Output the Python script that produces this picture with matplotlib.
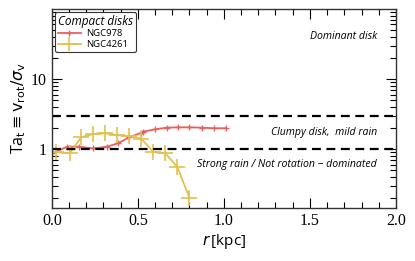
import matplotlib
matplotlib.use('Agg')
import matplotlib.pyplot as plt
from matplotlib.ticker import MultipleLocator, LogLocator, FixedLocator, FixedFormatter, NullFormatter

# radius in kpc and Ta_t = v_rot / sigma_v
r_978 = [0.0, 0.09, 0.16, 0.24, 0.32, 0.385, 0.45, 0.52, 0.53, 0.60, 0.667, 0.734, 0.80, 0.87, 0.94, 1.01]
ta_978 = [0.87, 1.08, 1.08, 1.02, 1.08, 1.21, 1.47, 1.71, 1.77, 1.91, 2.02, 2.04, 2.04, 2.02, 1.98, 1.98]
r_4261 = [0.023, 0.105, 0.17, 0.24, 0.31, 0.38, 0.45, 0.52, 0.59, 0.66, 0.73, 0.80]
ta_4261 = [0.90, 0.87, 1.47, 1.64, 1.68, 1.58, 1.53, 1.40, 0.91, 0.87, 0.55, 0.20]

limits = [3.0, 1.0]
regions = ['Dominant disk', 'Clumpy disk,  mild rain', 'Strong rain / Not rotation \u2212 dominated']
region_y = [40, 1.75, 0.6]

red = '#e8605f'
yellow = '#e2c150'

fig = plt.figure(figsize=(4.15, 2.61), dpi=100)
ax = fig.add_axes([0.125, 0.203, 0.829, 0.763])

ax.plot(r_978, ta_978, color=red, lw=1.3, marker='+', ms=4.5, mew=1.0, label='NGC978')
ax.plot(r_4261, ta_4261, color=yellow, lw=1.3, marker='+', ms=11, mew=1.2, label='NGC4261')

for y in limits:
    ax.axhline(y, color='black', lw=1.6, ls=(0, (4, 2.5)))

for txt, y in zip(regions, region_y):
    ax.text(1.89, y, txt, ha='right', va='center', fontsize=7.6, style='italic',
            family='Open Sans')

ax.set_yscale('log')
ax.set_xlim(0, 2.0)
ax.set_ylim(0.144, 100)
ax.yaxis.set_major_locator(FixedLocator([1, 10]))
ax.yaxis.set_major_formatter(FixedFormatter(['1', '10']))
ax.yaxis.set_minor_locator(LogLocator(base=10, subs=range(2, 10)))
ax.yaxis.set_minor_formatter(NullFormatter())
ax.set_xticks([0, 0.5, 1.0, 1.5, 2.0])
ax.set_xticklabels(['0.0', '0.5', '1.0', '1.5', '2.0'])
ax.xaxis.set_minor_locator(MultipleLocator(0.1))
ax.tick_params(which='both', direction='in', top=True, right=True, width=0.8)
ax.tick_params(which='major', length=7)
ax.tick_params(which='minor', length=4)
for lab in ax.get_xticklabels() + ax.get_yticklabels():
    lab.set_family('Liberation Serif')
    lab.set_fontsize(11.5)
for s in ax.spines.values():
    s.set_linewidth(1.0)
    s.set_color('#333333')

ax.set_xlabel(r'$r\,$[kpc]', fontsize=11, family='Open Sans', labelpad=2)
ax.set_ylabel(r'Ta$_{\rm t}\equiv \mathrm{v}_{\rm rot}/\sigma_{\rm v}$', fontsize=11.5,
              family='Open Sans', labelpad=2)

leg = ax.legend(loc='upper left', prop={'family': 'Open Sans', 'size': 6.8},
                title='Compact disks',
                title_fontproperties={'family': 'Open Sans', 'size': 8.5, 'style': 'italic'},
                frameon=True, handlelength=2.4, borderpad=0.3, labelspacing=0.15,
                handletextpad=0.6, borderaxespad=0.35, fancybox=True, markerscale=0.9)
leg.get_frame().set_edgecolor('#333333')
leg.get_frame().set_linewidth(0.8)
leg.get_frame().set_alpha(1)
leg._legend_box.align = 'left'

fig.savefig('out.png', dpi=100)
